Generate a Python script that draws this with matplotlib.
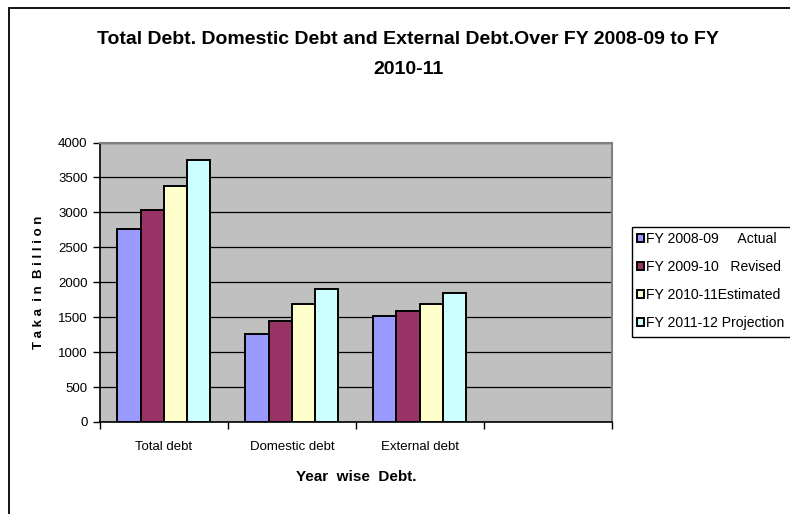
import matplotlib
matplotlib.use("Agg")
import matplotlib.pyplot as plt
import matplotlib.patches as mpatches
from matplotlib import font_manager
import numpy as np

# Debt figures in Taka billion
categories = ["Total debt", "Domestic debt", "External debt", ""]
series_labels = [
    "FY 2008-09     Actual",
    "FY 2009-10   Revised",
    "FY 2010-11Estimated",
    "FY 2011-12 Projection",
]
fy_2008_09 = [2760, 1260, 1510]
fy_2009_10 = [3040, 1440, 1590]
fy_2010_11 = [3380, 1690, 1690]
fy_2011_12 = [3750, 1905, 1845]
yticks = [0, 500, 1000, 1500, 2000, 2500, 3000, 3500, 4000]

series = [fy_2008_09, fy_2009_10, fy_2010_11, fy_2011_12]
colors = ["#9999FF", "#993366", "#FFFFCC", "#CCFFFF"]

names = {f.name for f in font_manager.fontManager.ttflist}
base = "Liberation Sans" if "Liberation Sans" in names else "DejaVu Sans"
plt.rcParams["font.family"] = [base, "DejaVu Sans"]

W, H = 790, 514
fig = plt.figure(figsize=(W / 100, H / 100), dpi=100)
fig.patch.set_facecolor("white")

# outer chart frame (runs off the right and bottom edges)
fig.add_artist(mpatches.Rectangle((8.5 / W, -0.1), 1.2, 1.1 - 8.5 / H,
                                  transform=fig.transFigure, fill=False,
                                  edgecolor="black", linewidth=1.3))

ax = fig.add_axes([100 / W, 1 - 422 / H, (611.5 - 100) / W, (422 - 142.5) / H])
ax.set_facecolor("#C0C0C0")

n = len(series)
width = 1 / 5.5
x = np.arange(len(fy_2008_09))
for i, (vals, c, lab) in enumerate(zip(series, colors, series_labels)):
    ax.bar(x + (i - (n - 1) / 2) * width, vals, width, color=c,
           edgecolor="black", linewidth=1.4, label=lab, zorder=3)

ax.set_xlim(-0.5, len(categories) - 0.5)
ax.set_ylim(0, 4000)
ax.set_yticks(yticks)
ax.set_yticklabels([str(v) for v in yticks], fontsize=9.5)
ax.yaxis.grid(True, color="black", linewidth=0.9, zorder=1)
ax.set_axisbelow(True)

ax.set_xticks(np.arange(len(categories)))
ax.set_xticklabels(categories, fontsize=9.5)
ax.set_xticks(np.arange(len(categories) + 1) - 0.5, minor=True)
ax.tick_params(axis="x", which="major", length=0, pad=14)
ax.tick_params(axis="x", which="minor", length=5, width=1, direction="out")
ax.tick_params(axis="y", length=5, width=1, direction="out", pad=4)

for s in ("left", "bottom"):
    ax.spines[s].set_color("black")
    ax.spines[s].set_linewidth(1.2)
for s in ("top", "right"):
    ax.spines[s].set_color("#808080")
    ax.spines[s].set_linewidth(1.5)

ax.set_ylabel("T a k a  i n  B i l l i o n", fontsize=9.5, fontweight="bold",
              labelpad=9)
ax.set_xlabel("Year  wise  Debt.", fontsize=11, fontweight="bold",
              labelpad=12)

fig.text(408 / W, 1 - 40 / H,
         "Total Debt. Domestic Debt and External Debt.Over FY 2008-09 to FY",
         ha="center", va="center", fontsize=14, fontweight="bold")
fig.text(408 / W, 1 - 70 / H, "2010-11", ha="center", va="center",
         fontsize=14, fontweight="bold")

# legend box: frame runs past the right edge of the chart
fig.add_artist(mpatches.Rectangle((632 / W, 1 - 337 / H), 0.5,
                                  (337 - 226.5) / H,
                                  transform=fig.transFigure,
                                  facecolor="white", edgecolor="black",
                                  linewidth=1.0))
handles, labels = ax.get_legend_handles_labels()
leg = fig.legend(handles, labels, loc="upper left",
                 bbox_to_anchor=(633 / W, 1 - 228 / H),
                 fontsize=10.1, frameon=False,
                 handlelength=0.5, handleheight=0.5,
                 handletextpad=0.2, labelspacing=1.02, borderpad=0.25,
                 borderaxespad=0)

fig.savefig("out.png", dpi=100)
